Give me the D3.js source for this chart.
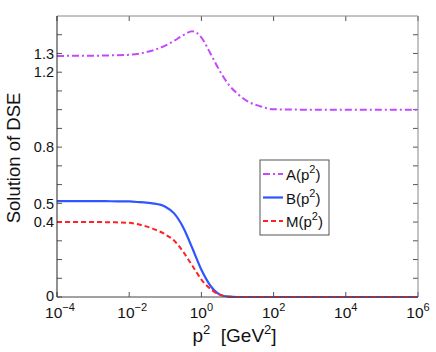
<!DOCTYPE html>
<html>
<head>
<meta charset="utf-8">
<script src="https://cdn.jsdelivr.net/npm/d3@7"></script>
<style>
  body { margin: 0; background: #fff; }
  svg { display: block; font-family: "Liberation Sans", Arial, sans-serif; }
</style>
</head>
<body>
<div id="chart"></div>
<script>
// log10(p^2) sample points
const logP = [-4, -3, -2.5, -2, -1.7, -1.35, -1, -0.75, -0.5, -0.25, 0, 0.25, 0.5, 0.75, 1, 1.3, 1.6, 2, 3, 4, 5, 6];
const seriesA = [1.287, 1.288, 1.29, 1.293, 1.30, 1.316, 1.342, 1.368, 1.398, 1.418, 1.385, 1.30, 1.21, 1.135, 1.085, 1.042, 1.02, 1.002, 1.0, 1.0, 1.0, 1.0];
const seriesB = [0.512, 0.512, 0.511, 0.51, 0.506, 0.50, 0.482, 0.445, 0.37, 0.26, 0.145, 0.06, 0.014, 0.002, 0, 0, 0, 0, 0, 0, 0, 0];
const seriesM = [0.40, 0.40, 0.399, 0.396, 0.386, 0.365, 0.334, 0.30, 0.24, 0.167, 0.093, 0.043, 0.013, 0.002, 0, 0, 0, 0, 0, 0, 0, 0];

const xTicks = [-4, -2, 0, 2, 4, 6];
const yTicks = [0, 0.1, 0.2, 0.3, 0.4, 0.5, 0.6, 0.7, 0.8, 0.9, 1.0, 1.1, 1.2, 1.3, 1.4];
const yLabels = [0, 0.4, 0.5, 0.8, 1.2, 1.3];

const W = 436, H = 352;
const margin = { left: 57, right: 18, top: 16, bottom: 55 };
const iw = W - margin.left - margin.right;
const ih = H - margin.top - margin.bottom;

const svg = d3.select('#chart').append('svg')
    .attr('width', W)
    .attr('height', H);

const x = d3.scaleLog().domain([1e-4, 1e6]).range([0, iw]);
const y = d3.scaleLinear().domain([0, 1.5]).range([ih, 0]);

const g = svg.append('g').attr('transform', `translate(${margin.left},${margin.top})`);

// ticks (inward, on all four sides)
const tickLen = 5;
xTicks.forEach(t => {
    const px = x(Math.pow(10, t));
    g.append('line').attr('x1', px).attr('x2', px).attr('y1', ih).attr('y2', ih - tickLen)
        .attr('stroke', '#555').attr('stroke-width', 1);
    g.append('line').attr('x1', px).attr('x2', px).attr('y1', 0).attr('y2', tickLen)
        .attr('stroke', '#555').attr('stroke-width', 1);
    const lab = g.append('text')
        .attr('x', t < 0 ? px + 3 : px)
        .attr('y', ih + 21)
        .attr('text-anchor', 'middle')
        .style('font-size', '15.5px')
        .attr('fill', '#111');
    lab.append('tspan').text('10');
    lab.append('tspan').attr('dy', -7).style('font-size', '11px').text(t < 0 ? '\u2212' + (-t) : t);
});

yTicks.forEach(t => {
    const py = y(t);
    g.append('line').attr('x1', 0).attr('x2', tickLen).attr('y1', py).attr('y2', py)
        .attr('stroke', '#555').attr('stroke-width', 1);
    g.append('line').attr('x1', iw).attr('x2', iw - tickLen).attr('y1', py).attr('y2', py)
        .attr('stroke', '#555').attr('stroke-width', 1);
});

yLabels.forEach(t => {
    g.append('text')
        .attr('x', -3)
        .attr('y', t === 0 ? y(t) - 1 : y(t))
        .attr('dy', '0.36em')
        .attr('text-anchor', 'end')
        .style('font-size', '14.5px')
        .attr('fill', '#111')
        .text(t === 0 ? '0' : t.toFixed(1));
});

// lines
const pts = vals => logP.map((l, i) => [Math.pow(10, l), vals[i]]);
const line = d3.line()
    .x(d => x(d[0]))
    .y(d => y(d[1]))
    .curve(d3.curveMonotoneX);

const series = [
    { name: 'A', vals: seriesA, color: '#c547ff', width: 2, dash: '7,3,2,3' },
    { name: 'B', vals: seriesB, color: '#2f55ff', width: 2.2, dash: null },
    { name: 'M', vals: seriesM, color: '#ff2222', width: 2, dash: '5,3' }
];

g.append('clipPath').attr('id', 'clip')
    .append('rect').attr('width', iw).attr('height', ih + 2).attr('y', -1);

// draw B under M so the red dashes sit on top near zero
['B', 'A', 'M'].forEach(n => {
    const s = series.find(d => d.name === n);
    g.append('path')
        .datum(pts(s.vals))
        .attr('clip-path', 'url(#clip)')
        .attr('d', line)
        .attr('fill', 'none')
        .attr('stroke', s.color)
        .attr('stroke-width', s.width)
        .attr('stroke-dasharray', s.dash);
});

// axes box
g.append('line').attr('x1', 0).attr('x2', iw).attr('y1', 0).attr('y2', 0).attr('stroke', '#888');
g.append('line').attr('x1', iw).attr('x2', iw).attr('y1', 0).attr('y2', ih).attr('stroke', '#888');
g.append('line').attr('x1', 0).attr('x2', 0).attr('y1', 0).attr('y2', ih).attr('stroke', '#222');
g.append('line').attr('x1', 0).attr('x2', iw).attr('y1', ih).attr('y2', ih).attr('stroke', '#444');

// legend
const lg = svg.append('g').attr('transform', 'translate(260,160)');
lg.append('rect').attr('width', 69).attr('height', 75)
    .attr('fill', '#fff').attr('stroke', '#555').attr('stroke-width', 1);
series.forEach((s, i) => {
    const ly = 14 + i * 23.5;
    lg.append('line').attr('x1', 3).attr('x2', 23).attr('y1', ly).attr('y2', ly)
        .attr('stroke', s.color).attr('stroke-width', s.width)
        .attr('stroke-dasharray', s.dash);
    const t = lg.append('text').attr('x', 26).attr('y', ly + 6)
        .style('font-size', '15px').attr('fill', '#111');
    t.append('tspan').text(s.name + '(p');
    t.append('tspan').attr('dy', -7).style('font-size', '11px').text('2');
    t.append('tspan').attr('dy', 7).text(')');
});

// axis titles
const xt = svg.append('text')
    .attr('x', margin.left + iw / 2 - 3)
    .attr('y', 342)
    .attr('text-anchor', 'middle')
    .style('font-size', '19px')
    .attr('fill', '#111');
xt.append('tspan').text('p');
xt.append('tspan').attr('dy', -8).style('font-size', '13px').text('2');
xt.append('tspan').attr('dy', 8).text('\u00a0\u00a0[GeV');
xt.append('tspan').attr('dy', -8).style('font-size', '13px').text('2');
xt.append('tspan').attr('dy', 8).text(']');

svg.append('text')
    .attr('transform', 'translate(20,158) rotate(-90)')
    .attr('text-anchor', 'middle')
    .style('font-size', '18.5px')
    .attr('fill', '#111')
    .text('Solution of DSE');
</script>
</body>
</html>
